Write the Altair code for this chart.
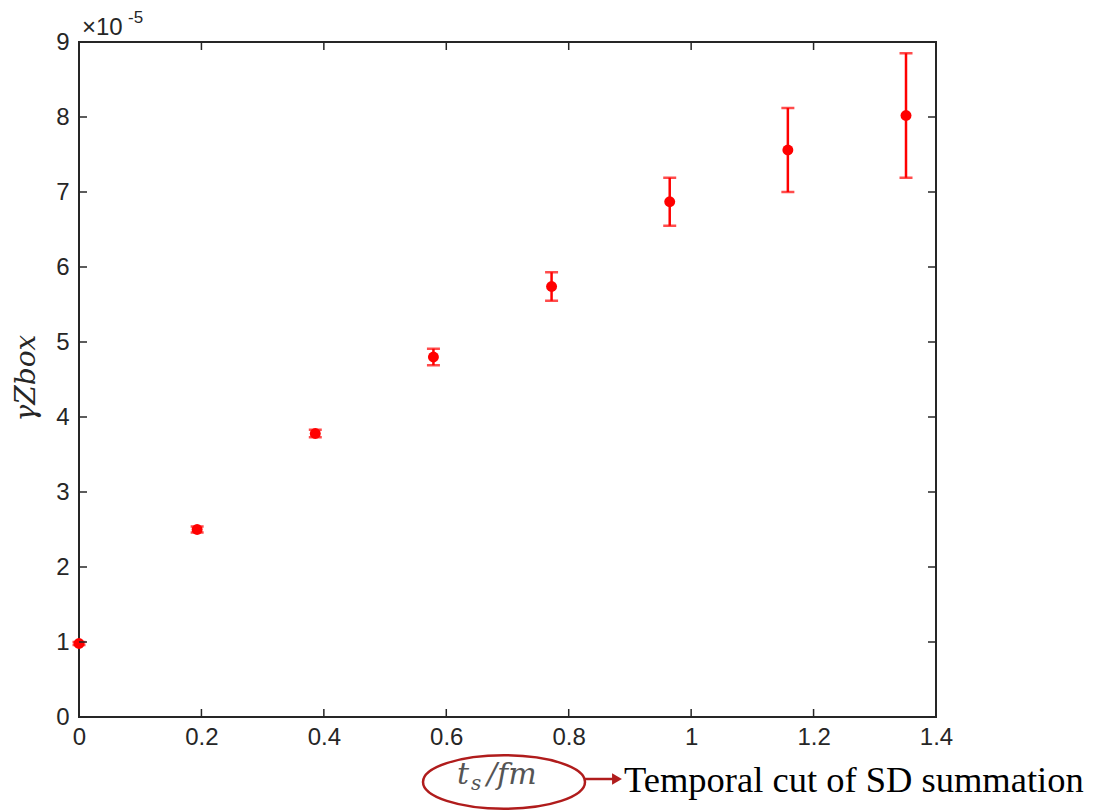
import altair as alt
import pandas as pd

# data (gamma Z_box in units of 1e-5)
ts = [0.0, 0.193, 0.386, 0.579, 0.772, 0.965, 1.158, 1.351]
gz = [0.98, 2.50, 3.78, 4.80, 5.74, 6.87, 7.56, 8.02]
err = [0.02, 0.04, 0.05, 0.11, 0.19, 0.32, 0.56, 0.83]
x_ticks = [0, 0.2, 0.4, 0.6, 0.8, 1.0, 1.2, 1.4]
y_ticks = [0, 1, 2, 3, 4, 5, 6, 7, 8, 9]

W, H = 857, 675
RED = "#ff0000"
AX = "#262626"
DARKRED = "#b01c1c"
GRAYTXT = "#555555"

df = pd.DataFrame({"ts": ts, "gz": gz, "err": err})
df["lo"] = df["gz"] - df["err"]
df["hi"] = df["gz"] + df["err"]
xt = pd.DataFrame({"v": x_ticks})
yt = pd.DataFrame({"v": y_ticks})

xs = alt.Scale(domain=[0, 1.4], nice=False, zero=False)
ys = alt.Scale(domain=[0, 9], nice=False, zero=False)

xaxis = alt.Axis(values=x_ticks, format=".1~f", ticks=False, domain=False, grid=False,
                 labelFont="Liberation Sans", labelFontSize=24, labelColor=AX,
                 labelPadding=8, labelFlush=False, title=None)
yaxis = alt.Axis(values=y_ticks, format="d", ticks=False, domain=False, grid=False,
                 labelFont="Liberation Sans", labelFontSize=24, labelColor=AX,
                 labelPadding=10, labelFlush=False, title=None)

base = alt.Chart(df)

rules = base.mark_rule(color=RED, strokeWidth=2.5).encode(
    x=alt.X("ts:Q", scale=xs, axis=xaxis),
    y=alt.Y("lo:Q", scale=ys, axis=yaxis),
    y2="hi:Q",
)
cap_lo = base.mark_tick(color=RED, orient="horizontal", size=13, thickness=2.5).encode(
    x=alt.X("ts:Q", scale=xs), y=alt.Y("lo:Q", scale=ys))
cap_hi = base.mark_tick(color=RED, orient="horizontal", size=13, thickness=2.5).encode(
    x=alt.X("ts:Q", scale=xs), y=alt.Y("hi:Q", scale=ys))
pts = base.mark_point(color=RED, filled=True, opacity=1, size=120, shape="circle").encode(
    x=alt.X("ts:Q", scale=xs), y=alt.Y("gz:Q", scale=ys))

TL = 8
xt_bot = alt.Chart(xt).mark_rule(color=AX, strokeWidth=1.5).encode(
    x=alt.X("v:Q", scale=xs), y=alt.value(H), y2=alt.value(H - TL))
xt_top = alt.Chart(xt).mark_rule(color=AX, strokeWidth=1.5).encode(
    x=alt.X("v:Q", scale=xs), y=alt.value(0), y2=alt.value(TL))
yt_left = alt.Chart(yt).mark_rule(color=AX, strokeWidth=1.5).encode(
    y=alt.Y("v:Q", scale=ys), x=alt.value(0), x2=alt.value(TL))
yt_right = alt.Chart(yt).mark_rule(color=AX, strokeWidth=1.5).encode(
    y=alt.Y("v:Q", scale=ys), x=alt.value(W), x2=alt.value(W - TL))

ann = pd.DataFrame({"k": [0]})
A = alt.Chart(ann)

exp_x10 = A.mark_text(text="×10", font="Liberation Sans", fontSize=24, color=AX,
                      align="left", baseline="alphabetic").encode(x=alt.value(3), y=alt.value(-7))
exp_pow = A.mark_text(text="-5", font="Liberation Sans", fontSize=17, color=AX,
                      align="left", baseline="alphabetic").encode(x=alt.value(49), y=alt.value(-19))

ylab = A.mark_text(text="γZbox", font="DejaVu Serif", fontStyle="italic", fontSize=28,
                   color=AX, angle=270, align="center", baseline="middle").encode(
    x=alt.value(-52), y=alt.value(336))

xlab_t = A.mark_text(text="t", font="DejaVu Serif", fontStyle="italic", fontSize=30,
                     color=GRAYTXT, align="left", baseline="alphabetic").encode(
    x=alt.value(378), y=alt.value(H + 67))
xlab_s = A.mark_text(text="s", font="DejaVu Serif", fontStyle="italic", fontSize=20,
                     color=GRAYTXT, align="left", baseline="alphabetic").encode(
    x=alt.value(392), y=alt.value(H + 73))
xlab_r = A.mark_text(text="/fm", font="DejaVu Serif", fontStyle="italic", fontSize=30,
                     color=GRAYTXT, align="left", baseline="alphabetic").encode(
    x=alt.value(408), y=alt.value(H + 67))

ellipse = A.mark_point(shape="M-1,0 A1,0.33 0 1,1 1,0 A1,0.33 0 1,1 -1,0",
                       size=162 * 162, filled=False, color=DARKRED, strokeWidth=2.5,
                       opacity=1).encode(x=alt.value(425), y=alt.value(H + 65))
arrow_line = A.mark_rule(color=DARKRED, strokeWidth=2.5).encode(
    x=alt.value(506), x2=alt.value(535), y=alt.value(H + 62))
arrow_head = A.mark_point(shape="triangle-right", size=130, filled=True, color=DARKRED,
                          opacity=1).encode(x=alt.value(538), y=alt.value(H + 62))
note = A.mark_text(text="Temporal cut of SD summation", font="Liberation Serif",
                   fontSize=36.5, color="black", align="left", baseline="alphabetic").encode(
    x=alt.value(545), y=alt.value(H + 75))

chart = alt.layer(
    rules, cap_lo, cap_hi, pts, xt_bot, xt_top, yt_left, yt_right,
    exp_x10, exp_pow, ylab, xlab_t, xlab_s, xlab_r, ellipse, arrow_line, arrow_head, note,
).properties(
    width=W, height=H,
    autosize=alt.AutoSizeParams(type="none"),
    padding={"left": 79, "top": 42, "right": 161, "bottom": 94},
    background="white",
).configure_view(stroke=AX, strokeWidth=2)

chart.save("out.html", embed_options={"renderer": "svg", "actions": False})
